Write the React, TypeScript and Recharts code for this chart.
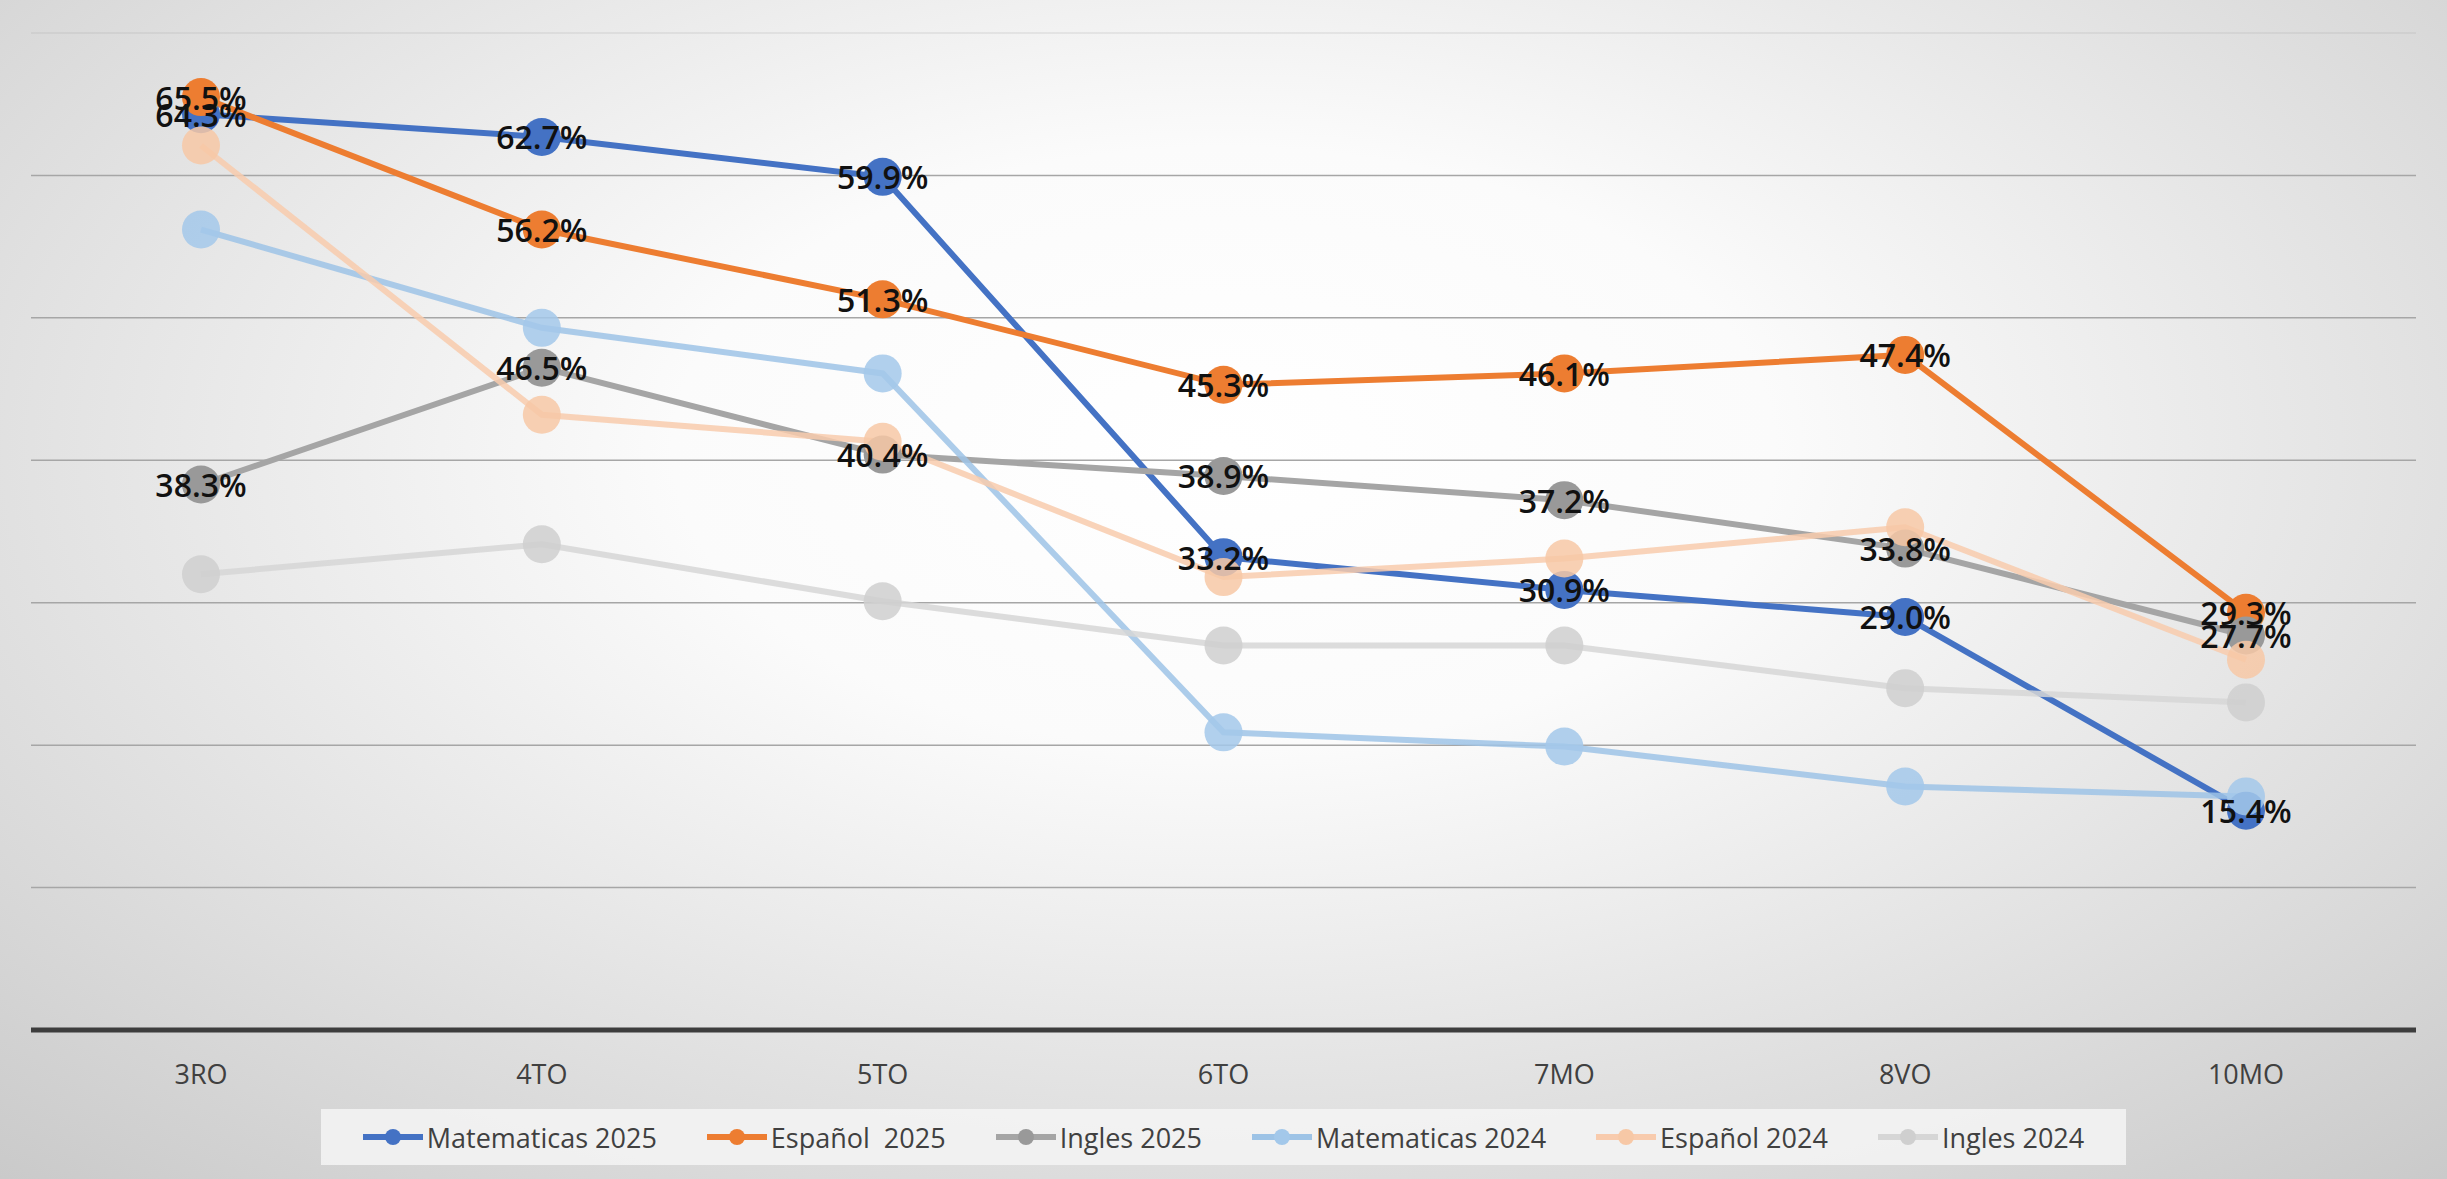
import React from "react";
import { LineChart, Line, XAxis, YAxis, CartesianGrid, Legend } from "recharts";

const categories = ["3RO", "4TO", "5TO", "6TO", "7MO", "8VO", "10MO"];
const matematicas2025 = [64.3, 62.7, 59.9, 33.2, 30.9, 29.0, 15.4];
const espanol2025 = [65.5, 56.2, 51.3, 45.3, 46.1, 47.4, 29.3];
const ingles2025 = [38.3, 46.5, 40.4, 38.9, 37.2, 33.8, 27.7];
const matematicas2024 = [56.2, 49.3, 46.1, 20.9, 19.9, 17.1, 16.4];
const espanol2024 = [62.1, 43.2, 41.3, 31.8, 33.1, 35.3, 26.0];
const ingles2024 = [32.0, 34.1, 30.1, 27.0, 27.0, 24.0, 23.0];
const yTicks = [0, 10, 20, 30, 40, 50, 60, 70];

const seriesNames = [
  "Matematicas 2025",
  "Español  2025",
  "Ingles 2025",
  "Matematicas 2024",
  "Español 2024",
  "Ingles 2024",
];
const seriesKeys = ["mat25", "esp25", "ing25", "mat24", "esp24", "ing24"];
const seriesValues = [matematicas2025, espanol2025, ingles2025, matematicas2024, espanol2024, ingles2024];
const seriesColors = ["#4472C4", "#ED7D31", "#A5A5A5", "#9DC3E6", "#F8CBAD", "#D6D6D6"];
const dotColors = ["#4472C4", "#ED7D31", "#999999", "#A3C8EA", "#F7C8A6", "#CFCFCF"];
const labeledKeys = ["mat25", "esp25", "ing25"];

const data = categories.map((c, i) => {
  const row: Record<string, string | number> = { cat: c };
  seriesKeys.forEach((k, j) => {
    row[k] = seriesValues[j][i];
  });
  return row;
});

const FONT = "'Open Sans', 'Noto Sans', sans-serif";

const renderLabel = (props: any) => {
  const { x, y, value } = props;
  if (value == null) return null;
  return (
    <text
      x={x}
      y={y}
      textAnchor="middle"
      dominantBaseline="central"
      fontFamily={FONT}
      fontSize={32}
      fontWeight={600}
      fill="#111111"
    >
      {Number(value).toFixed(1)}%
    </text>
  );
};

const renderGridLine = (props: any) => {
  const { x1, x2, y1, y2, index } = props;
  const isTop = index === yTicks.length - 1 || y1 < 40;
  return (
    <line
      key={"g" + index + "-" + y1}
      x1={x1}
      x2={x2}
      y1={y1}
      y2={y2}
      stroke="#a6a6a6"
      strokeWidth={1.5}
      strokeOpacity={isTop ? 0.25 : 1}
    />
  );
};

const LegendContent = () => (
  <div style={{ display: "flex", justifyContent: "center", width: "100%" }}>
    <div
      style={{
        display: "flex",
        alignItems: "center",
        gap: 50,
        height: 56,
        padding: "0 42px",
        background: "rgba(244,244,244,0.85)",
        fontFamily: FONT,
        fontSize: 27,
        color: "#404040",
        boxSizing: "border-box",
      }}
    >
      {seriesNames.map((name, i) => (
        <div key={name} style={{ display: "flex", alignItems: "center" }}>
          <svg width={60} height={20} style={{ display: "block" }}>
            <line x1={0} y1={10} x2={60} y2={10} stroke={seriesColors[i]} strokeWidth={6} />
            <circle cx={30} cy={10} r={8} fill={dotColors[i]} />
          </svg>
          <span style={{ marginLeft: 4, whiteSpace: "pre" }}>{name}</span>
        </div>
      ))}
    </div>
  </div>
);

export default function App() {
  return (
    <div
      style={{
        position: "absolute",
        left: 0,
        top: 0,
        width: 2447,
        height: 1179,
        background:
          "radial-gradient(ellipse 75% 85% at 50% 38%, #ffffff 0%, #fbfbfb 30%, #e2e2e2 65%, #c9c9c9 100%)",
      }}
    >
      <LineChart
        width={2447}
        height={1179}
        data={data}
        margin={{ top: 33, right: 31, left: 31, bottom: 23 }}
      >
        <CartesianGrid vertical={false} horizontal={renderGridLine} />
        <XAxis
          dataKey="cat"
          height={70}
          padding={{ left: 170, right: 170 }}
          axisLine={{ stroke: "#3d3d3d", strokeWidth: 5 }}
          tickLine={false}
          tickSize={0}
          tickMargin={35}
          tick={{ fill: "#404040", fontSize: 27, fontFamily: FONT }}
          interval={0}
        />
        <YAxis hide domain={[0, 70]} ticks={yTicks} />
        <Legend
          verticalAlign="bottom"
          content={() => <LegendContent />}
          wrapperStyle={{ bottom: 14, left: 0, width: 2447 }}
        />
        {seriesKeys.map((k, i) => (
          <Line
            key={k}
            dataKey={k}
            name={seriesNames[i]}
            stroke={seriesColors[i]}
            strokeWidth={6}
            strokeOpacity={i >= 3 ? 0.85 : 1}
            dot={{ r: 19, fill: dotColors[i], stroke: "none", fillOpacity: i >= 3 ? 0.85 : 1 }}
            activeDot={false}
            isAnimationActive={false}
          />
        ))}
        {labeledKeys.map((k) => (
          <Line
            key={"lbl-" + k}
            dataKey={k}
            stroke="none"
            dot={false}
            activeDot={false}
            legendType="none"
            label={renderLabel}
            isAnimationActive={false}
          />
        ))}
      </LineChart>
    </div>
  );
}
